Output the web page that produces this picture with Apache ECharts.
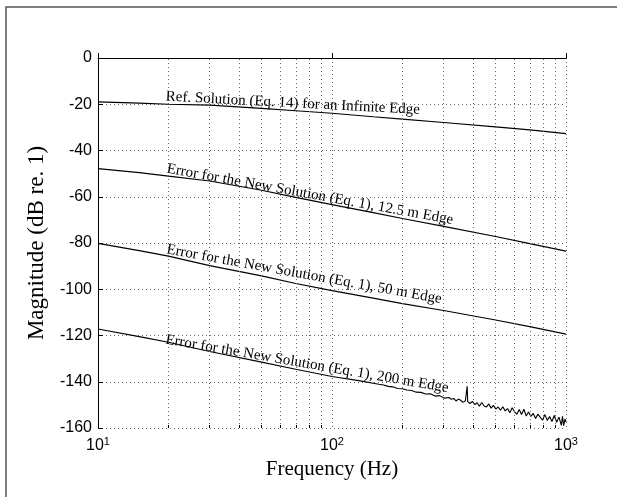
<!DOCTYPE html>
<html>
<head>
<meta charset="utf-8">
<script src="https://cdn.jsdelivr.net/npm/echarts@6/dist/echarts.min.js"></script>
<style>
html, body { margin: 0; padding: 0; background: #fff; }
#main { width: 617px; height: 497px; }
</style>
</head>
<body>
<div id="main"></div>
<script>
// smooth curves
const freqs = [10, 15, 20, 30, 50, 70, 100, 150, 200, 300, 500, 700, 1000];
const refInfinite = [-19.0, -19.5, -20.0, -20.4, -21.8, -22.8, -23.9, -25.4, -26.4, -27.9, -29.8, -31.1, -32.7];
const err12_5 = [-47.8, -49.6, -51.1, -53.2, -57.2, -60.3, -63.4, -66.9, -69.4, -72.8, -77.2, -80.3, -83.5];
const err50 = [-80.2, -83.3, -85.7, -89.8, -94.2, -97.5, -100.6, -103.8, -106.2, -109.2, -113.3, -116.2, -119.4];

// 200 m curve gets noisy above ~150 Hz, with a spike near 378 Hz
const err200Freqs = [10, 15, 20, 30, 50, 70, 100, 130,
    158.5, 166, 173.8, 182, 190.5, 199.5, 208.9, 218.8, 229.1, 239.9, 251.2, 263, 275.4, 288.4, 302, 316.2,
    323.6, 331.1, 338.8, 346.7, 354.8, 363.1, 371.5, 376, 378, 380.2, 389, 398.1, 407.4, 416.9, 426.6,
    436.5, 446.7, 457.1, 467.7, 478.6, 489.8, 501.2, 512.9, 524.8, 537, 549.5, 562.3, 575.4, 588.8,
    602.6, 616.6, 631, 645.7, 660.7, 676.1, 691.8, 707.9, 724.4, 741.3, 758.6, 776.2, 794.3, 812.8,
    831.8, 851.1, 871, 891.3, 912, 933.3, 955, 966, 977.2, 990, 1000];
const err200 = [-117.2, -120.5, -122.9, -126.9, -131.5, -134.6, -137.7, -139.5,
    -141.1, -141.4, -142.0, -142.2, -142.9, -143.0, -143.6, -143.8, -144.5, -144.6, -145.3, -145.2, -146.2, -146.0, -147.1, -146.8,
    -147.6, -147.2, -148.3, -147.5, -148.0, -148.9, -148.2, -148.7, -142.0, -148.6, -149.4, -148.5, -149.9, -149.1, -150.6,
    -149.0, -150.5, -150.9, -149.6, -151.4, -150.2, -151.8, -150.9, -152.3, -150.8, -152.6, -151.6, -153.4, -151.2,
    -153.0, -154.1, -152.0, -154.2, -151.9, -154.8, -153.1, -155.0, -153.7, -155.9, -154.0, -155.4, -156.6, -154.2,
    -156.7, -155.0, -157.2, -154.6, -157.5, -155.3, -158.9, -155.0, -159.0, -156.2, -157.4];

const minorFreqs = [20, 30, 40, 50, 60, 70, 80, 90, 200, 300, 400, 500, 600, 700, 800, 900];

const curveLabels = [
    'Ref. Solution (Eq. 14) for an Infinite Edge',
    'Error for the New Solution (Eq. 1), 12.5 m Edge',
    'Error for the New Solution (Eq. 1), 50 m Edge',
    'Error for the New Solution (Eq. 1), 200 m Edge'
];
const labelAt = [[68, -19.6], [80.5, -59.0], [76, -93.6], [78.2, -132.3]];
const labelAngle = [-3, -10.2, -10.3, -9.8];

const zip = (xs, ys) => xs.map((x, i) => [x, ys[i]]);

let chart = echarts.init(document.getElementById('main'));

const serifFont = 'Liberation Serif';
const sansFont = 'Liberation Sans';
const dotted = { color: '#666', width: 1, type: [1, 3] };

function curve (data, idx, width) {
    return {
        type: 'line',
        data: data,
        showSymbol: false,
        symbol: 'none',
        lineStyle: { color: '#000', width: width },
        silent: true,
        z: 3,
        markPoint: {
            symbol: 'circle',
            symbolSize: 0,
            silent: true,
            data: [{ coord: labelAt[idx] }],
            label: {
                show: true,
                position: 'inside',
                rotate: labelAngle[idx],
                formatter: curveLabels[idx],
                fontFamily: serifFont,
                fontSize: 15,
                color: '#000'
            }
        }
    };
}

const option = {
    animation: false,
    backgroundColor: '#fff',
    graphic: [{
        type: 'rect',
        shape: { x: 6, y: 7, width: 700, height: 600 },
        style: { fill: 'none', stroke: '#555', lineWidth: 1.5 },
        silent: true
    }],
    grid: {
        left: 98,
        right: 51,
        top: 58,
        bottom: 69
    },
    xAxis: {
        type: 'log',
        logBase: 10,
        min: 10,
        max: 1000,
        name: 'Frequency (Hz)',
        nameLocation: 'middle',
        nameGap: 27,
        nameTextStyle: { fontFamily: serifFont, fontSize: 21, color: '#000' },
        axisLine: { show: true, lineStyle: { color: '#000', width: 1 } },
        axisTick: { show: true, inside: true, length: 5, lineStyle: { color: '#000' } },
        axisLabel: {
            margin: 8,
            formatter: function (v) {
                return '{b|10}{s|' + Math.round(Math.log10(v)) + '}';
            },
            rich: {
                b: { fontFamily: sansFont, fontSize: 16, color: '#000', lineHeight: 20 },
                s: { fontFamily: sansFont, fontSize: 11, color: '#000', verticalAlign: 'top', lineHeight: 20 }
            }
        },
        splitLine: { show: true, lineStyle: dotted }
    },
    yAxis: {
        type: 'value',
        min: -160,
        max: 0,
        interval: 20,
        name: 'Magnitude (dB re. 1)',
        nameLocation: 'middle',
        nameGap: 50,
        nameTextStyle: { fontFamily: serifFont, fontSize: 23, color: '#000' },
        axisLine: { show: true, lineStyle: { color: '#000', width: 1 } },
        axisTick: { show: true, inside: true, length: 5, lineStyle: { color: '#000' } },
        axisLabel: { fontFamily: sansFont, fontSize: 16, color: '#000', margin: 6 },
        splitLine: { show: true, lineStyle: dotted }
    },
    series: [
        curve(zip(freqs, refInfinite), 0, 1.2),
        curve(zip(freqs, err12_5), 1, 1.2),
        curve(zip(freqs, err50), 2, 1.2),
        curve(zip(err200Freqs, err200), 3, 1.1),
        {
            // minor grid lines and minor ticks of the log axis
            type: 'line',
            data: [],
            silent: true,
            markLine: {
                silent: true,
                symbol: 'none',
                label: { show: false },
                lineStyle: dotted,
                data: minorFreqs.map(f => ({ xAxis: f }))
                    .concat(minorFreqs.map(f => [
                        { coord: [f, -160], lineStyle: { type: 'solid', color: '#000' } },
                        { coord: [f, -158.7] }
                    ]))
            }
        }
    ]
};

chart.setOption(option);

window.addEventListener('resize', function () {
    chart.resize();
});
</script>
</body>
</html>
